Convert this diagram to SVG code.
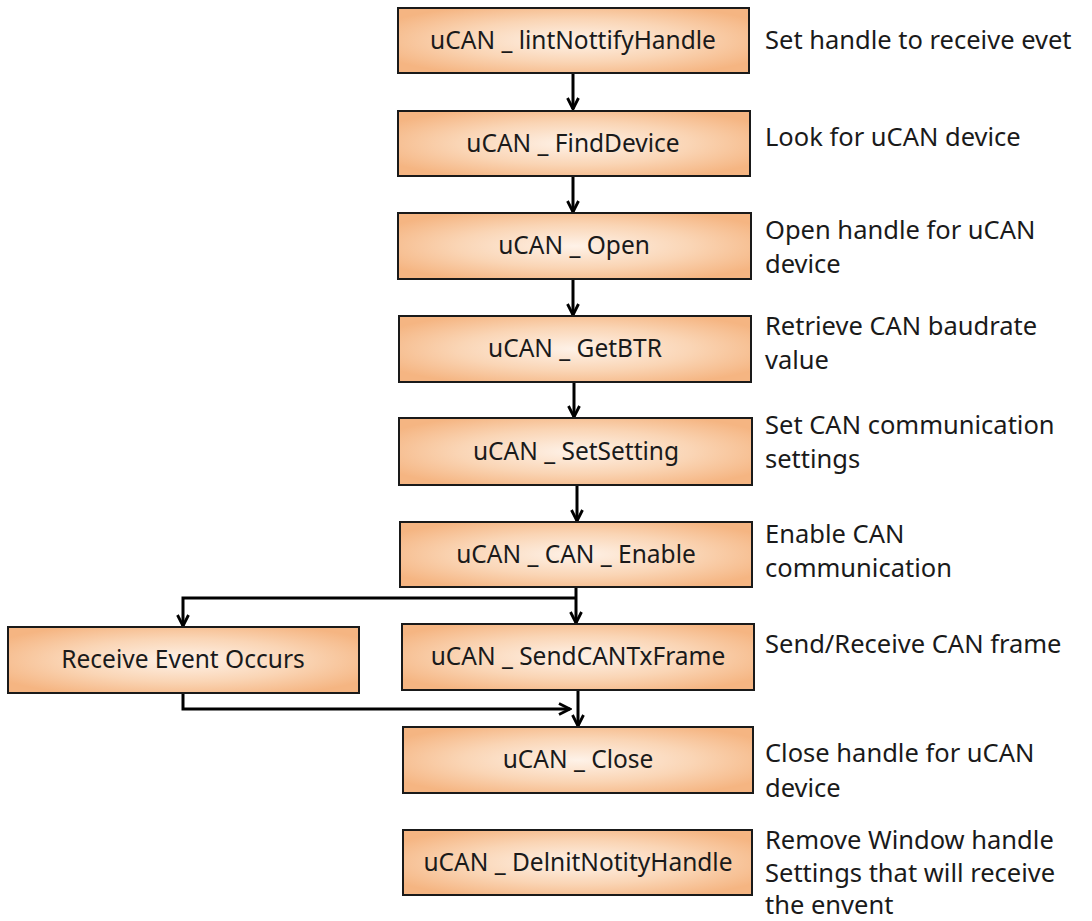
<svg xmlns="http://www.w3.org/2000/svg" width="1092" height="921" viewBox="0 0 1092 921">
<defs>
<radialGradient id="g" cx="0.5" cy="0.5" r="0.6">
<stop offset="0" stop-color="#FEF2E8"/>
<stop offset="0.55" stop-color="#FAD5B5"/>
<stop offset="1" stop-color="#F5B582"/>
</radialGradient>
<marker id="ah" viewBox="0 0 14 14" refX="12.5" refY="7" markerWidth="14" markerHeight="14" markerUnits="userSpaceOnUse" orient="auto">
<path d="M1.5,1.5 L12.5,7 L1.5,12.5" fill="none" stroke="#000" stroke-width="2.8"/>
</marker>
<style>
.box{fill:url(#g);stroke:#1a1a1a;stroke-width:2}
.t{font-family:"Noto Sans","Open Sans","DejaVu Sans",sans-serif;font-size:24.5px;fill:#1a1a1a;text-anchor:middle}
.d{font-family:"Noto Sans","Open Sans","DejaVu Sans",sans-serif;font-size:25.5px;fill:#1a1a1a}
.c{fill:none;stroke:#000;stroke-width:3}
</style>
</defs>
<rect width="1092" height="921" fill="#fff"/>
<g id="connectors">
<line class="c" x1="573" y1="73" x2="573" y2="109" marker-end="url(#ah)"/>
<line class="c" x1="573" y1="176" x2="573" y2="212" marker-end="url(#ah)"/>
<line class="c" x1="573" y1="279" x2="573" y2="315" marker-end="url(#ah)"/>
<line class="c" x1="574" y1="382" x2="574" y2="417" marker-end="url(#ah)"/>
<line class="c" x1="577" y1="485" x2="577" y2="521" marker-end="url(#ah)"/>
<line class="c" x1="576" y1="587" x2="576" y2="623" marker-end="url(#ah)"/>
<polyline class="c" points="576,598 183,598 183,626" marker-end="url(#ah)"/>
<line class="c" x1="578" y1="690" x2="578" y2="726" marker-end="url(#ah)"/>
<polyline class="c" points="183,693 183,709 570,709" marker-end="url(#ah)"/>
</g>
<g id="n1"><rect class="box" x="398" y="8" width="351" height="65"/><text class="t" x="573" y="49">uCAN _ lintNottifyHandle</text></g>
<g id="n2"><rect class="box" x="398" y="111" width="352" height="65"/><text class="t" x="573" y="152">uCAN _ FindDevice</text></g>
<g id="n3"><rect class="box" x="398" y="213" width="353" height="66"/><text class="t" x="574" y="254">uCAN _ Open</text></g>
<g id="n4"><rect class="box" x="399" y="316" width="352" height="66"/><text class="t" x="575" y="357">uCAN _ GetBTR</text></g>
<g id="n5"><rect class="box" x="399" y="418" width="353" height="67"/><text class="t" x="576" y="460">uCAN _ SetSetting</text></g>
<g id="n6"><rect class="box" x="400" y="522" width="352" height="65"/><text class="t" x="576" y="563">uCAN _ CAN _ Enable</text></g>
<g id="n7"><rect class="box" x="402" y="624" width="352" height="66"/><text class="t" x="578" y="665">uCAN _ SendCANTxFrame</text></g>
<g id="n8"><rect class="box" x="403" y="727" width="350" height="66"/><text class="t" x="578" y="768">uCAN _ Close</text></g>
<g id="n9"><rect class="box" x="403" y="830" width="349" height="65"/><text class="t" x="578" y="871">uCAN _ DelnitNotityHandle</text></g>
<g id="n10"><rect class="box" x="8" y="627" width="351" height="66"/><text class="t" x="183" y="668">Receive Event Occurs</text></g>
<g id="labels">
<text class="d" x="765" y="49">Set handle to receive evet</text>
<text class="d" x="765" y="146">Look for uCAN device</text>
<text class="d" x="765" y="239">Open handle for uCAN</text>
<text class="d" x="765" y="273">device</text>
<text class="d" x="765" y="335">Retrieve CAN baudrate</text>
<text class="d" x="765" y="369">value</text>
<text class="d" x="765" y="434">Set CAN communication</text>
<text class="d" x="765" y="468">settings</text>
<text class="d" x="765" y="543">Enable CAN</text>
<text class="d" x="765" y="577">communication</text>
<text class="d" x="765" y="653">Send/Receive CAN frame</text>
<text class="d" x="765" y="762">Close handle for uCAN</text>
<text class="d" x="765" y="797">device</text>
<text class="d" x="765" y="849">Remove Window handle</text>
<text class="d" x="765" y="882">Settings that will receive</text>
<text class="d" x="765" y="914">the envent</text>
</g>
</svg>
